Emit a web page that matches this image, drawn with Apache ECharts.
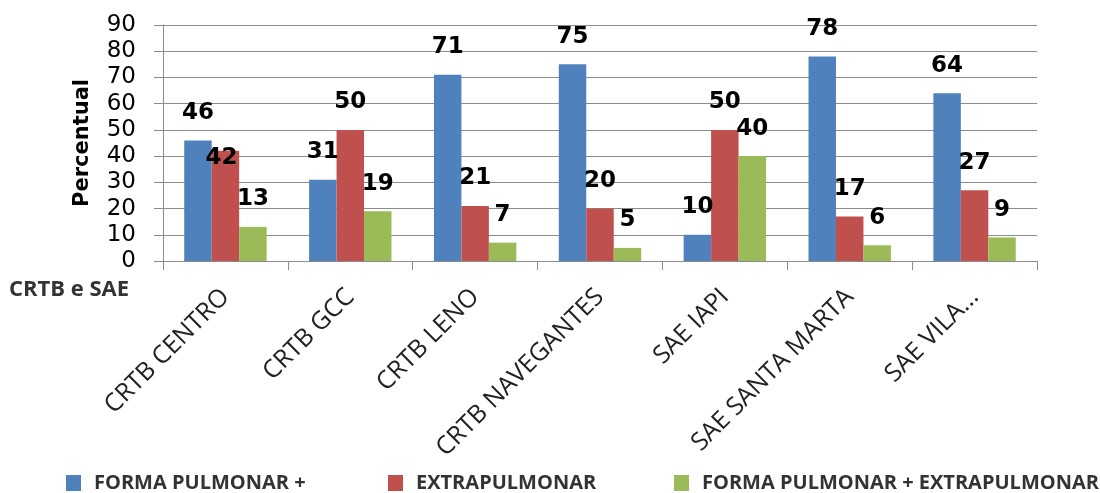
<!DOCTYPE html>
<html>
<head>
<meta charset="utf-8">
<script src="https://cdn.jsdelivr.net/npm/echarts@6/dist/echarts.min.js"></script>
<style>
html,body{margin:0;padding:0;background:#fff;}
#c{width:1100px;height:493px;}
</style>
</head>
<body>
<div id="c"></div>
<script>
const categories = ['CRTB CENTRO', 'CRTB GCC', 'CRTB LENO', 'CRTB NAVEGANTES', 'SAE IAPI', 'SAE SANTA MARTA', 'SAE VILA...'];
const seriesNames = ['FORMA PULMONAR +', 'EXTRAPULMONAR', 'FORMA PULMONAR + EXTRAPULMONAR'];
const pulmonar = [46, 31, 71, 75, 10, 78, 64];
const extrapulmonar = [42, 50, 21, 20, 50, 17, 27];
const ambas = [13, 19, 7, 5, 40, 6, 9];
const yTicks = [0, 10, 20, 30, 40, 50, 60, 70, 80, 90];

const colors = ['#4F81BD', '#C0504D', '#9BBB59'];
const labelFont = {fontFamily: 'DejaVu Sans', fontWeight: 'bold', fontSize: 23, color: '#000'};

function mkSeries(idx, vals) {
  const data = vals.map((v, i) => {
    // the "42" label in the reference sits lower, overlapping the bar top
    if (idx === 1 && i === 0) return {value: v, label: {offset: [-4, 35]}};
    return v;
  });
  return {
    name: seriesNames[idx],
    type: 'bar',
    data: data,
    barGap: '0%',
    barCategoryGap: '34%',
    itemStyle: {color: colors[idx]},
    label: Object.assign({show: true, position: 'top', distance: 16}, labelFont),
    emphasis: {disabled: true},
    animation: false
  };
}

const legendBase = {
  orient: 'horizontal', top: 473, padding: 0, itemWidth: 15, itemHeight: 16, icon: 'rect',
  textStyle: {fontFamily: 'Open Sans', fontWeight: 'bold', fontSize: 20, color: '#333', padding: [0, 0, 0, 8]},
  selectedMode: false
};

const chart = echarts.init(document.getElementById('c'), null, {renderer: 'canvas'});
chart.setOption({
  backgroundColor: '#fff',
  animation: false,
  grid: {left: 163, right: 63, top: 25, bottom: 232, containLabel: false},
  legend: [
    Object.assign({}, legendBase, {left: 66, data: [seriesNames[0]]}),
    Object.assign({}, legendBase, {left: 388, data: [seriesNames[1]]}),
    Object.assign({}, legendBase, {left: 674, data: [seriesNames[2]]})
  ],
  xAxis: {
    type: 'category',
    data: categories,
    axisLine: {lineStyle: {color: '#8c8c8c', width: 1}},
    axisTick: {show: true, length: 9, lineStyle: {color: '#8c8c8c'}},
    axisLabel: {rotate: 45, margin: 32, interval: 0, fontFamily: 'Open Sans', fontSize: 25, color: '#222'},
    splitLine: {show: false}
  },
  yAxis: {
    type: 'value',
    min: yTicks[0], max: yTicks[yTicks.length - 1], interval: 10,
    name: 'Percentual',
    nameLocation: 'middle',
    nameRotate: 90,
    nameGap: 70,
    nameTextStyle: {fontFamily: 'DejaVu Sans', fontWeight: 'bold', fontSize: 21, color: '#000'},
    axisLine: {show: true, lineStyle: {color: '#8c8c8c', width: 1}},
    axisTick: {show: true, length: 9, lineStyle: {color: '#8c8c8c'}},
    axisLabel: {margin: 27, fontFamily: 'DejaVu Sans', fontSize: 23, color: '#000'},
    splitLine: {show: true, lineStyle: {color: '#8c8c8c', width: 1}}
  },
  graphic: [{
    type: 'text', left: 9, top: 279,
    style: {text: 'CRTB e SAE', fontFamily: 'Open Sans', fontWeight: 'bold', fontSize: 22, fill: '#333'}
  }],
  series: [mkSeries(0, pulmonar), mkSeries(1, extrapulmonar), mkSeries(2, ambas)]
});
</script>
</body>
</html>
